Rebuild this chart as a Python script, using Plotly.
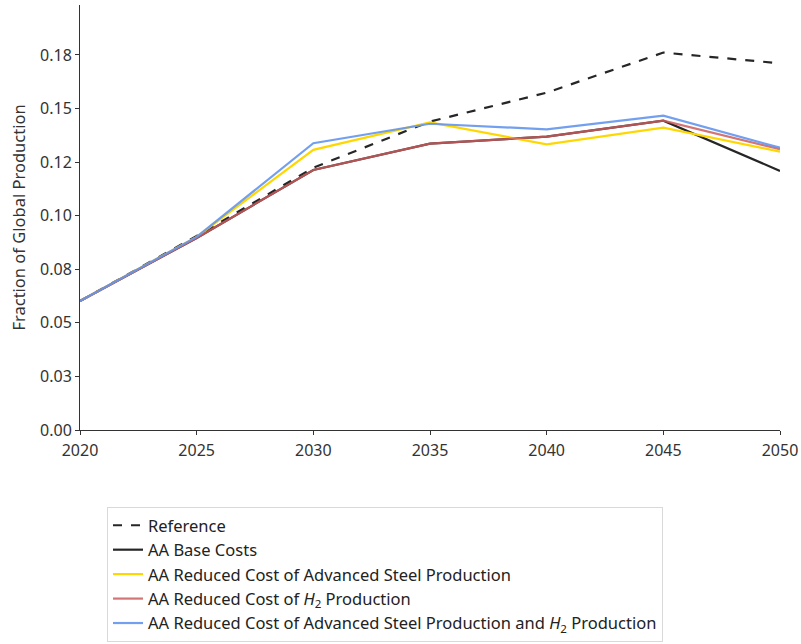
import plotly.graph_objects as go

# Model years
years = [2020, 2025, 2030, 2035, 2040, 2045, 2050]

# Fraction of global production per scenario
reference = [0.0602, 0.0905, 0.1224, 0.1439, 0.1574, 0.1761, 0.1711]
aa_base = [0.0602, 0.0896, 0.1213, 0.1336, 0.1369, 0.1443, 0.1209]
aa_steel = [0.0602, 0.0901, 0.1307, 0.1435, 0.1333, 0.1411, 0.1299]
aa_h2 = [0.0602, 0.0896, 0.1213, 0.1336, 0.1369, 0.1443, 0.1310]
aa_steel_h2 = [0.0602, 0.0901, 0.1338, 0.1429, 0.1403, 0.1467, 0.1317]

# Y tick positions and labels
y_tickvals = [0.0, 0.025, 0.05, 0.075, 0.10, 0.125, 0.15, 0.175]
y_ticktext = ["0.00", "0.03", "0.05", "0.08", "0.10", "0.12", "0.15", "0.18"]
x_tickvals = years

series = [
    ("Reference", reference, "#262626", "dash"),
    ("AA Base Costs", aa_base, "#262626", "solid"),
    ("AA Reduced Cost of Advanced Steel Production", aa_steel, "#FFD700", "solid"),
    ("AA Reduced Cost of <i>H</i><sub>2</sub> Production", aa_h2, "rgba(205,92,92,0.85)", "solid"),
    ("AA Reduced Cost of Advanced Steel Production and <i>H</i><sub>2</sub> Production",
     aa_steel_h2, "rgba(100,149,237,0.9)", "solid"),
]

fig = go.Figure()
for i, (name, vals, color, dash) in enumerate(series):
    fig.add_trace(go.Scatter(
        x=years, y=vals, name=name, mode="lines",
        line=dict(color=color, width=2.2, dash=dash),
        legendgroup=f"g{i}",
    ))

W, H = 801, 644
M_L, M_R, M_T = 80, 21, 5
PLOT_BOTTOM = 430          # pixel row of the x axis
LEGEND_BOTTOM = 642        # pixel row of the legend box bottom
paper_h = H - M_T          # bottom margin is zero; the plot sits in the upper domain
y_domain_lo = (H - PLOT_BOTTOM) / paper_h

font_family = "Noto Sans"
fig.update_layout(
    width=W, height=H,
    margin=dict(l=M_L, r=M_R, t=M_T, b=0, autoexpand=False),
    plot_bgcolor="white", paper_bgcolor="white",
    font=dict(family=font_family, size=16, color="#333333"),
    showlegend=True,
    legend=dict(
        x=(107 - M_L) / (W - M_L - M_R), y=(H - LEGEND_BOTTOM) / paper_h,
        xanchor="left", yanchor="bottom",
        bgcolor="white", bordercolor="#d9d9d9", borderwidth=1,
        font=dict(family=font_family, size=16.5, color="#222222"),
        tracegroupgap=0,
    ),
    xaxis=dict(
        range=[2020, 2050], tickvals=x_tickvals, automargin=False,
        showline=True, linecolor="#333333", linewidth=1,
        ticks="outside", ticklen=4, tickcolor="#333333",
        showgrid=False, zeroline=False,
        tickfont=dict(size=16, color="#333333"),
        ticklabelstandoff=2,
    ),
    yaxis=dict(
        domain=[y_domain_lo, 1], automargin=False,
        range=[0, 0.1983], tickvals=y_tickvals, ticktext=y_ticktext,
        showline=True, linecolor="#333333", linewidth=1,
        ticks="outside", ticklen=4, tickcolor="#333333",
        showgrid=False, zeroline=False,
        title=dict(text="Fraction of Global Production",
                   font=dict(size=16.5, color="#333333"), standoff=10),
        tickfont=dict(size=16, color="#333333"),
    ),
)

fig.write_html("out.html")
